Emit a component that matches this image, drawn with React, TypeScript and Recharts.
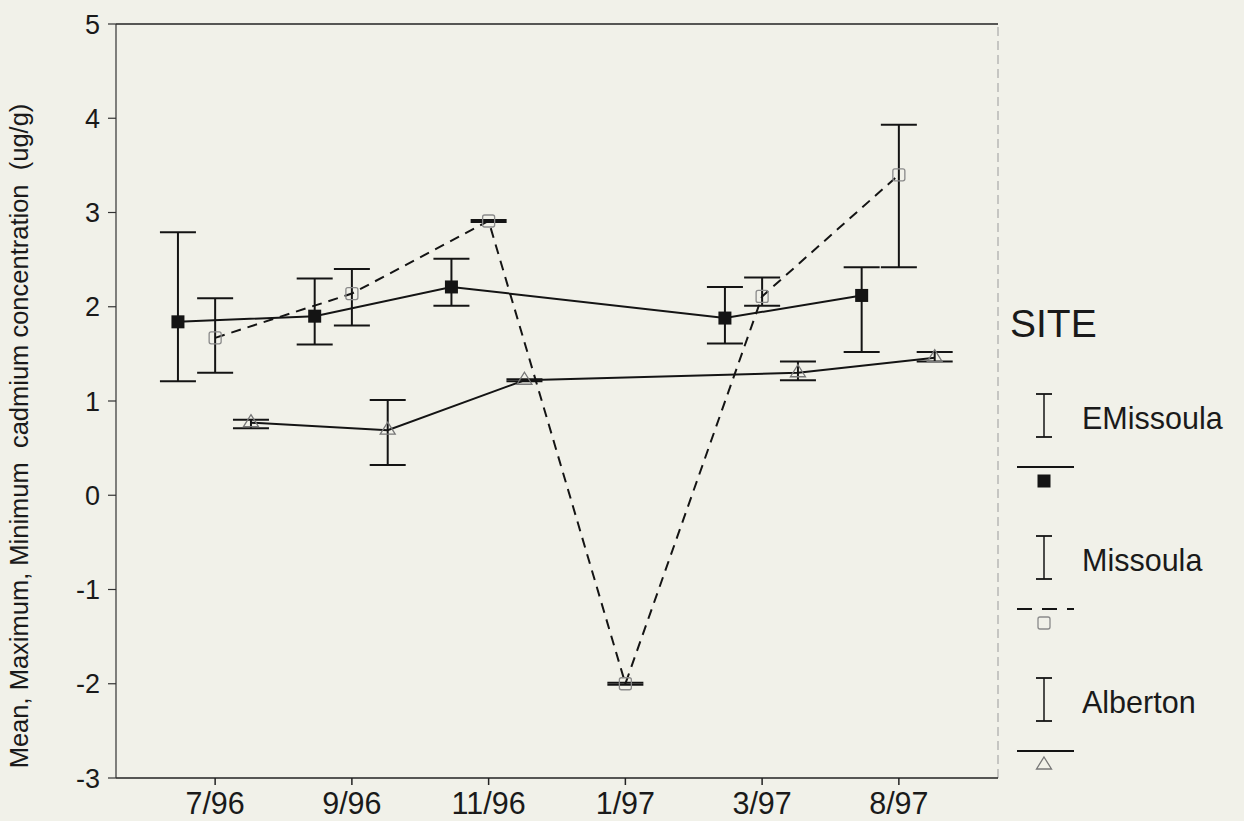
import React from 'react';
import { ScatterChart, Scatter, XAxis, YAxis, ErrorBar, ReferenceLine, Legend } from 'recharts';

const categories = ['7/96', '9/96', '11/96', '1/97', '3/97', '8/97'];
const categoryIndex = [0, 1, 2, 3, 4, 5];
const yTicks = [-3, -2, -1, 0, 1, 2, 3, 4, 5];
const siteNames = ['EMissoula', 'Missoula', 'Alberton'];
const yTitle = 'Mean, Maximum, Minimum  cadmium concentration  (ug/g)';
const legendTitle = 'SITE';

const eMissoulaIdx = [0, 1, 2, 4, 5];
const eMissoulaMean = [1.84, 1.9, 2.21, 1.88, 2.12];
const eMissoulaMax = [2.79, 2.3, 2.51, 2.21, 2.42];
const eMissoulaMin = [1.21, 1.6, 2.01, 1.61, 1.52];

const missoulaIdx = [0, 1, 2, 3, 4, 5];
const missoulaMean = [1.67, 2.14, 2.91, -2.0, 2.11, 3.4];
const missoulaMax = [2.09, 2.4, 2.92, -1.99, 2.31, 3.93];
const missoulaMin = [1.3, 1.8, 2.9, -2.01, 2.01, 2.42];

const albertonIdx = [0, 1, 2, 4, 5];
const albertonMean = [0.77, 0.69, 1.22, 1.3, 1.46];
const albertonMax = [0.8, 1.01, 1.23, 1.42, 1.52];
const albertonMin = [0.71, 0.32, 1.21, 1.22, 1.42];

const OFFSETS = [-0.272, 0, 0.262];

const build = (idx: number[], mean: number[], max: number[], min: number[], offset: number) =>
  idx.map((c, i) => ({ x: c + offset, y: mean[i], err: [mean[i] - min[i], max[i] - mean[i]] }));

const eMissoulaData = build(eMissoulaIdx, eMissoulaMean, eMissoulaMax, eMissoulaMin, OFFSETS[0]);
const missoulaData = build(missoulaIdx, missoulaMean, missoulaMax, missoulaMin, OFFSETS[1]);
const albertonData = build(albertonIdx, albertonMean, albertonMax, albertonMin, OFFSETS[2]);

const FONT = '"Liberation Sans", Arial, Helvetica, sans-serif';
const BG = '#f1f1e9';
const INK = '#141414';
const TXT = '#1a1a1a';

const FilledSquare = (p: any) => (
  <rect x={p.cx - 6.5} y={p.cy - 6.5} width={13} height={13} fill={INK} />
);
const OpenSquare = (p: any) => (
  <rect x={p.cx - 6} y={p.cy - 6} width={12} height={12} rx={2} fill="none" stroke="#8a8a8a" strokeWidth={1.3} />
);
const OpenTriangle = (p: any) => (
  <path
    d={`M${p.cx},${p.cy - 8}L${p.cx + 7.5},${p.cy + 4}L${p.cx - 7.5},${p.cy + 4}Z`}
    fill="none"
    stroke="#777"
    strokeWidth={1.3}
  />
);

const markerFor = (k: number, cx: number, cy: number) => {
  if (k === 0) return <FilledSquare cx={cx} cy={cy} />;
  if (k === 1) return <OpenSquare cx={cx} cy={cy} />;
  return <OpenTriangle cx={cx} cy={cy} />;
};

const LegendContent = () => (
  <svg width={240} height={520} style={{ overflow: 'visible', display: 'block' }}>
    <text x={10} y={47} fontFamily={FONT} fontSize={39} fill={TXT}>
      {legendTitle}
    </text>
    {siteNames.map((name, k) => {
      const dy = k * 142;
      return (
        <g key={name}>
          <line x1={44} y1={104 + dy} x2={44} y2={147 + dy} stroke={INK} strokeWidth={1.5} />
          <line x1={36} y1={104 + dy} x2={52} y2={104 + dy} stroke={INK} strokeWidth={1.8} />
          <line x1={36} y1={147 + dy} x2={52} y2={147 + dy} stroke={INK} strokeWidth={1.8} />
          <text x={82} y={128 + dy} dominantBaseline="central" fontFamily={FONT} fontSize={30.5} fill={TXT}>
            {name}
          </text>
          <line
            x1={17}
            y1={177 + dy}
            x2={74}
            y2={177 + dy}
            stroke={INK}
            strokeWidth={1.8}
            strokeDasharray={k === 1 ? '15 10' : undefined}
          />
          {markerFor(k, 44, 191 + dy)}
        </g>
      );
    })}
  </svg>
);

const YTitle = (props: any) => {
  const vb = props.viewBox || { x: 56, y: 24, width: 60, height: 754 };
  const cx = 28;
  const cy = vb.y + vb.height / 2 + 35;
  return (
    <text
      x={cx}
      y={cy}
      transform={`rotate(-90, ${cx}, ${cy})`}
      textAnchor="middle"
      fontFamily={FONT}
      fontSize={25.5}
      fill={TXT}
      xmlSpace="preserve"
      style={{ whiteSpace: 'pre' }}
    >
      {yTitle}
    </text>
  );
};

export default function App() {
  return (
    <div style={{ width: 1244, height: 821, background: BG, position: 'relative' }}>
      <style>{`body{margin:0;background:${BG};}`}</style>
      <ScatterChart width={1244} height={821} margin={{ top: 24, right: 246, bottom: 8, left: 56 }}>
        <XAxis
          type="number"
          dataKey="x"
          domain={[-0.725, 5.725]}
          ticks={categoryIndex}
          tickFormatter={(v: number) => categories[v] ?? ''}
          allowDataOverflow
          height={35}
          tickSize={7}
          tickMargin={7}
          stroke="#222"
          strokeWidth={1.5}
          tick={{ fill: TXT, fontSize: 30.5, fontFamily: FONT }}
          tickLine={{ stroke: '#222', strokeWidth: 1.5 }}
        />
        <YAxis
          type="number"
          dataKey="y"
          domain={[-3, 5]}
          ticks={yTicks}
          allowDataOverflow
          width={60}
          tickSize={8}
          tickMargin={8}
          stroke="#333"
          strokeWidth={1.2}
          tick={{ fill: TXT, fontSize: 27, fontFamily: FONT }}
          tickLine={{ stroke: '#333', strokeWidth: 1.2 }}
          label={<YTitle />}
        />
        <ReferenceLine y={5} stroke="#222" strokeWidth={1.5} ifOverflow="extendDomain" />
        <ReferenceLine x={5.725} stroke="#aaa" strokeWidth={1.2} strokeDasharray="9 5" ifOverflow="extendDomain" />
        <Legend
          layout="vertical"
          align="center"
          verticalAlign="middle"
          content={<LegendContent />}
          wrapperStyle={{ position: 'absolute', left: 1000, top: 290, width: 240, height: 520 }}
        />
        <Scatter
          name={siteNames[0]}
          data={eMissoulaData}
          isAnimationActive={false}
          line={{ stroke: INK, strokeWidth: 2 }}
          lineType="joint"
          shape={FilledSquare}
        >
          <ErrorBar dataKey="err" direction="y" width={18} stroke={INK} strokeWidth={2} isAnimationActive={false} />
        </Scatter>
        <Scatter
          name={siteNames[1]}
          data={missoulaData}
          isAnimationActive={false}
          line={{ stroke: INK, strokeWidth: 2, strokeDasharray: '10 7' }}
          lineType="joint"
          shape={OpenSquare}
        >
          <ErrorBar dataKey="err" direction="y" width={18} stroke={INK} strokeWidth={2} isAnimationActive={false} />
        </Scatter>
        <Scatter
          name={siteNames[2]}
          data={albertonData}
          isAnimationActive={false}
          line={{ stroke: INK, strokeWidth: 2 }}
          lineType="joint"
          shape={OpenTriangle}
        >
          <ErrorBar dataKey="err" direction="y" width={18} stroke={INK} strokeWidth={2} isAnimationActive={false} />
        </Scatter>
      </ScatterChart>
    </div>
  );
}
